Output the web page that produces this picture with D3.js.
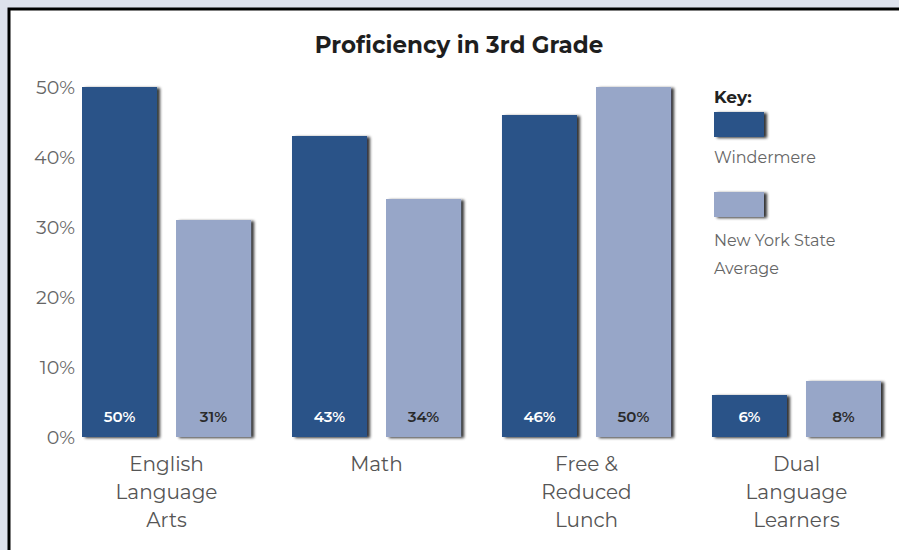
<!DOCTYPE html>
<html><head><meta charset="utf-8">
<script src="https://cdn.jsdelivr.net/npm/d3@7"></script>
<style>html,body{margin:0;padding:0;background:#dde1ec;}svg{display:block;}</style>
</head><body>
<script>
const categories = [["English","Language","Arts"],["Math"],["Free &","Reduced","Lunch"],["Dual","Language","Learners"]];
const categoryKeys = ["ELA","Math","FRL","DLL"];
const windermere = [50,43,46,6];
const nyState = [31,34,50,8];
const yTicks = [0,10,20,30,40,50];
const seriesNames = ["Windermere","New York State Average"];

const W = 899, H = 550;
const svg = d3.select("body").append("svg").attr("width",W).attr("height",H);
const font = "'Montserrat','Inter','Open Sans',sans-serif";

const defs = svg.append("defs");
const f = defs.append("filter").attr("id","sh").attr("x","-10%").attr("y","-10%").attr("width","130%").attr("height","130%");
f.append("feGaussianBlur").attr("in","SourceAlpha").attr("stdDeviation",1.6).attr("result","b");
f.append("feOffset").attr("in","b").attr("dx",3).attr("dy",1).attr("result","o");
f.append("feComponentTransfer").attr("in","o").attr("result","o2").append("feFuncA").attr("type","linear").attr("slope",0.8);
const m = f.append("feMerge"); m.append("feMergeNode").attr("in","o2"); m.append("feMergeNode").attr("in","SourceGraphic");

// panel
svg.append("rect").attr("x",9).attr("y",9).attr("width",W).attr("height",H).attr("fill","#fff").attr("stroke","#000").attr("stroke-width",3);

svg.append("text").attr("x",459).attr("y",53).attr("text-anchor","middle")
  .attr("font-family",font).attr("font-weight",700).attr("font-size",23).attr("fill","#1e1e1e")
  .text("Proficiency in 3rd Grade");

const y = d3.scaleLinear().domain([0,50]).range([437,87]);
const x0 = d3.scaleBand().domain(categoryKeys).range([82,881]).paddingInner(0.195).paddingOuter(0).align(0);
const x1 = d3.scaleBand().domain(seriesNames).range([0,x0.bandwidth()]).paddingInner(0.202).paddingOuter(0);
const colors = ["#2b5288","#97a6c8"];

// y axis
const yAxis = d3.axisLeft(y).tickValues(yTicks).tickFormat(d=>d+"%").tickSize(0).tickPadding(0);
const ga = svg.append("g").attr("transform","translate(75,0)").call(yAxis);
ga.select(".domain").remove();
ga.selectAll("text").attr("font-family",font).attr("font-size",19).attr("fill","#666").attr("dy","0.35em");

const data = categoryKeys.map((k,i)=>({k, vals:[windermere[i],nyState[i]], label:categories[i]}));
const g = svg.selectAll("g.grp").data(data).join("g").attr("class","grp").attr("transform",d=>`translate(${x0(d.k)},0)`);
g.selectAll("rect").data(d=>d.vals.map((v,j)=>({v,s:seriesNames[j],j}))).join("rect")
  .attr("x",d=>x1(d.s)).attr("y",d=>y(d.v)).attr("width",x1.bandwidth()).attr("height",d=>y(0)-y(d.v))
  .attr("fill",d=>colors[d.j]).attr("filter","url(#sh)");
g.selectAll("text.val").data(d=>d.vals.map((v,j)=>({v,s:seriesNames[j],j}))).join("text").attr("class","val")
  .attr("x",d=>x1(d.s)+x1.bandwidth()/2).attr("y",422).attr("text-anchor","middle")
  .attr("font-family",font).attr("font-weight",600).attr("font-size",15)
  .attr("fill",d=>d.j===0?"#fff":"#2a2a2a").text(d=>d.v+"%");
g.each(function(d){
  const t = d3.select(this).append("text").attr("text-anchor","middle").attr("font-family",font).attr("font-size",20).attr("fill","#555");
  d.label.forEach((l,i)=>t.append("tspan").attr("x",x0.bandwidth()/2).attr("y",471+i*28).text(l));
});

// legend
const lg = svg.append("g").attr("font-family",font);
lg.append("text").attr("x",714).attr("y",103).attr("font-weight",700).attr("font-size",17).attr("fill","#222").text("Key:");
lg.append("rect").attr("x",714).attr("y",112).attr("width",50).attr("height",25).attr("fill",colors[0]).attr("filter","url(#sh)");
lg.append("text").attr("x",714).attr("y",163).attr("font-size",16).attr("fill","#666").text("Windermere");
lg.append("rect").attr("x",714).attr("y",192).attr("width",50).attr("height",25).attr("fill",colors[1]).attr("filter","url(#sh)");
const t2 = lg.append("text").attr("font-size",16).attr("fill","#666");
t2.append("tspan").attr("x",714).attr("y",246).text("New York State");
t2.append("tspan").attr("x",714).attr("y",274).text("Average");
</script>
</body></html>
